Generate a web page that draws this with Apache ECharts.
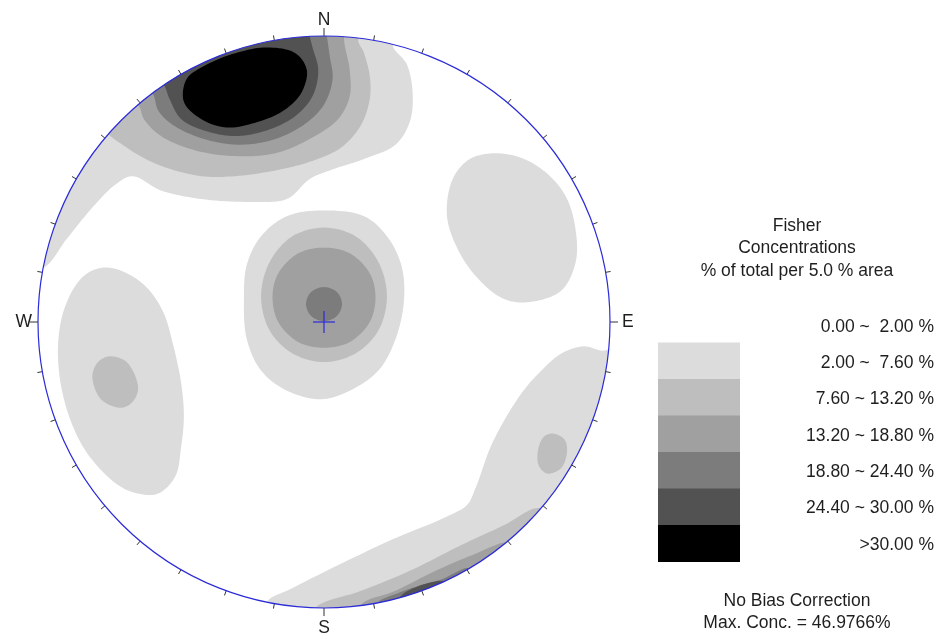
<!DOCTYPE html>
<html><head><meta charset="utf-8">
<script src="https://cdn.jsdelivr.net/npm/echarts@6/dist/echarts.min.js"></script>
<style>html,body{margin:0;padding:0;background:#fff}#c{width:942px;height:639px}</style>
</head><body><div id="c"></div>
<script>
// ---------- text / categories ----------
const compassLabels = {0: 'N', 90: 'E', 180: 'S', 270: 'W'};
const bandLabels = ['0.00 ~  2.00 %', '2.00 ~  7.60 %', '7.60 ~ 13.20 %', '13.20 ~ 18.80 %',
                    '18.80 ~ 24.40 %', '24.40 ~ 30.00 %', '>30.00 %'];
const titleLines = ['Fisher', 'Concentrations', '% of total per 5.0 % area'];
const footLines = ['No Bias Correction', 'Max. Conc. = 46.9766%'];
const poleCentre = [0, 0];

// ---------- contour rings (projection plane, unit net radius), ring k = band k+1 ----------
const northRings = [
  [[-1.05,0.19],[-0.98,0.19],[-0.90,0.29],[-0.81,0.40],[-0.73,0.48],[-0.67,0.51],[-0.57,0.46],[-0.43,0.43],[-0.26,0.42],[-0.13,0.43],[-0.05,0.50],[0.02,0.53],[0.14,0.57],[0.25,0.62],[0.30,0.70],[0.31,0.80],[0.29,0.90],[0.24,0.97],[0.28,1.03],[0,1.07],[-0.28,1.03],[-0.53,0.92],[-0.75,0.75],[-0.92,0.53],[-1.00,0.36]],
  [[-0.77,0.68],[-0.69,0.61],[-0.58,0.55],[-0.43,0.51],[-0.31,0.51],[-0.17,0.53],[-0.05,0.56],[0.06,0.61],[0.13,0.69],[0.16,0.78],[0.16,0.86],[0.14,0.94],[0.12,0.99],[0.19,1.05],[0,1.07],[-0.28,1.03],[-0.53,0.92],[-0.75,0.75]],
  [[-0.65,0.76],[-0.63,0.71],[-0.57,0.65],[-0.45,0.60],[-0.31,0.58],[-0.17,0.59],[-0.05,0.64],[0.05,0.71],[0.09,0.79],[0.09,0.88],[0.07,1.00],[0.09,1.06],[0,1.07],[-0.28,1.03],[-0.53,0.92],[-0.72,0.80]],
  [[-0.60,0.80],[-0.58,0.74],[-0.53,0.69],[-0.42,0.64],[-0.29,0.62],[-0.17,0.64],[-0.07,0.69],[0.00,0.76],[0.03,0.85],[0.02,0.93],[0.01,1.00],[0.0,1.07],[-0.28,1.03],[-0.53,0.92],[-0.66,0.84]],
  [[-0.56,0.83],[-0.54,0.78],[-0.50,0.71],[-0.42,0.67],[-0.31,0.65],[-0.20,0.67],[-0.10,0.72],[-0.04,0.79],[-0.02,0.88],[-0.04,0.96],[-0.05,1.00],[-0.06,1.065],[-0.28,1.03],[-0.53,0.92],[-0.60,0.88]],
  [[-0.49,0.77],[-0.48,0.85],[-0.41,0.90],[-0.31,0.94],[-0.20,0.96],[-0.10,0.94],[-0.06,0.88],[-0.08,0.80],[-0.14,0.74],[-0.23,0.70],[-0.34,0.68],[-0.43,0.71]]
];
const centreRings = [
  [[-0.01,0.39],[0.14,0.37],[0.22,0.30],[0.27,0.20],[0.28,0.08],[0.25,-0.06],[0.19,-0.17],[0.09,-0.24],[-0.01,-0.27],[-0.13,-0.24],[-0.22,-0.17],[-0.27,-0.06],[-0.28,0.08],[-0.27,0.20],[-0.22,0.30],[-0.13,0.37]],
  [[0.22,0.09],[0.19,0.21],[0.11,0.30],[0.00,0.33],[-0.11,0.30],[-0.19,0.21],[-0.22,0.09],[-0.19,-0.03],[-0.11,-0.11],[0.00,-0.14],[0.11,-0.11],[0.19,-0.03]],
  [[0.18,0.086],[0.16,0.17],[0.09,0.24],[0.00,0.26],[-0.09,0.24],[-0.16,0.17],[-0.18,0.09],[-0.16,0.00],[-0.09,-0.07],[0.00,-0.09],[0.09,-0.07],[0.16,0.00]],
  [[0.063,0.063],[0.045,0.105],[0.0,0.122],[-0.045,0.105],[-0.063,0.063],[-0.045,0.021],[0.0,0.003],[0.045,0.021]]
];
const westRings = [
  [[-0.75,0.19],[-0.67,0.16],[-0.61,0.11],[-0.56,0.03],[-0.53,-0.07],[-0.50,-0.21],[-0.49,-0.33],[-0.50,-0.44],[-0.52,-0.54],[-0.58,-0.60],[-0.65,-0.60],[-0.72,-0.57],[-0.82,-0.47],[-0.88,-0.36],[-0.92,-0.22],[-0.93,-0.08],[-0.91,0.04],[-0.86,0.14],[-0.81,0.18]],
  [[-0.75,-0.12],[-0.69,-0.14],[-0.65,-0.23],[-0.67,-0.28],[-0.71,-0.30],[-0.78,-0.27],[-0.81,-0.19],[-0.79,-0.14]]
];
const northEastRings = [
  [[0.60,0.59],[0.70,0.57],[0.79,0.51],[0.85,0.43],[0.88,0.32],[0.88,0.21],[0.83,0.11],[0.72,0.07],[0.63,0.08],[0.54,0.15],[0.47,0.25],[0.43,0.37],[0.45,0.50],[0.51,0.57]]
];
const southEastRings = [
  [[-0.20,-0.98],[-0.11,-0.93],[0.07,-0.84],[0.24,-0.76],[0.43,-0.68],[0.50,-0.64],[0.53,-0.58],[0.59,-0.42],[0.69,-0.25],[0.76,-0.17],[0.83,-0.11],[0.91,-0.085],[0.98,-0.10],[1.06,-0.06],[1.05,-0.19],[1.00,-0.36],[0.92,-0.53],[0.75,-0.75],[0.53,-0.92],[0.28,-1.03],[0,-1.07],[-0.19,-1.05]],
  [[-0.03,-1.00],[0.13,-0.94],[0.30,-0.87],[0.48,-0.78],[0.63,-0.71],[0.75,-0.65],[0.82,-0.69],[0.75,-0.75],[0.53,-0.92],[0.28,-1.03],[0.04,-1.07],[-0.04,-1.07]],
  [[0.13,-0.99],[0.25,-0.94],[0.39,-0.87],[0.53,-0.81],[0.64,-0.77],[0.71,-0.79],[0.53,-0.92],[0.28,-1.03],[0.15,-1.06]],
  [[0.18,-0.99],[0.28,-0.94],[0.41,-0.90],[0.51,-0.86],[0.56,-0.90],[0.36,-1.00],[0.22,-1.04]],
  [[0.26,-0.97],[0.34,-0.92],[0.43,-0.91],[0.45,-0.97],[0.28,-1.03]]
];
const southEastSpotRings = [
  null,
  [[0.80,-0.39],[0.84,-0.41],[0.85,-0.45],[0.83,-0.51],[0.78,-0.53],[0.75,-0.50],[0.75,-0.44],[0.77,-0.40]]
];

// ---------- styles ----------
const bandFill = ['#ffffff', '#dcdcdc', '#bebebe', '#a0a0a0', '#7c7c7c', '#525252', '#000000'];
const FONT = '"Liberation Sans", Arial, Helvetica, sans-serif';
const TXT = '#1e1e1e';
const NET_BLUE = '#2b2bd8';

// build draw list: lower bands first
const contours = [];
[northRings, centreRings, westRings, northEastRings, southEastRings, southEastSpotRings].forEach(rings => {
  rings.forEach((pts, i) => { if (pts) contours.push({ band: i + 1, pts: pts }); });
});
contours.sort((a, b) => a.band - b.band);

// closed centripetal Catmull-Rom curve through the projected ring vertices (drawing only)
function smoothRing(P, steps) {
  const n = P.length, out = [];
  const d = (a, b) => Math.max(Math.pow(Math.hypot(b[0] - a[0], b[1] - a[1]), 0.5), 1e-4);
  for (let i = 0; i < n; i++) {
    const p0 = P[(i - 1 + n) % n], p1 = P[i], p2 = P[(i + 1) % n], p3 = P[(i + 2) % n];
    const t0 = 0, t1 = t0 + d(p0, p1), t2 = t1 + d(p1, p2), t3 = t2 + d(p2, p3);
    for (let s = 0; s < steps; s++) {
      const t = t1 + (t2 - t1) * s / steps;
      const lerp = (a, b, ta, tb) => [
        ((tb - t) * a[0] + (t - ta) * b[0]) / (tb - ta),
        ((tb - t) * a[1] + (t - ta) * b[1]) / (tb - ta)];
      const A1 = lerp(p0, p1, t0, t1), A2 = lerp(p1, p2, t1, t2), A3 = lerp(p2, p3, t2, t3);
      const B1 = lerp(A1, A2, t0, t2), B2 = lerp(A2, A3, t1, t3);
      out.push(lerp(B1, B2, t1, t2));
    }
  }
  return out;
}

// ---------- legend graphics ----------
const graphics = [];
const legX = 658, legW = 82, legTop = 306, legStep = 36.5;
bandLabels.forEach((lab, i) => {
  if (i > 0) {
    graphics.push({ type: 'rect', z: 100, shape: { x: legX, y: legTop + i * legStep, width: legW, height: legStep + 0.6 },
      style: { fill: bandFill[i] } });
  }
  graphics.push({ type: 'text', z: 100, x: 934, y: 327 + i * 36.3,
    style: { text: lab, font: '17.5px ' + FONT, fill: TXT, textAlign: 'right', textVerticalAlign: 'middle' } });
});
titleLines.forEach((t, i) => {
  graphics.push({ type: 'text', z: 100, x: 797, y: 226 + i * 22.5,
    style: { text: t, font: '17.5px ' + FONT, fill: TXT, textAlign: 'center', textVerticalAlign: 'middle' } });
});
footLines.forEach((t, i) => {
  graphics.push({ type: 'text', z: 100, x: 797, y: 601 + i * 22,
    style: { text: t, font: '17.5px ' + FONT, fill: TXT, textAlign: 'center', textVerticalAlign: 'middle' } });
});

const lab = { fontSize: 17.5, fontFamily: FONT, color: TXT };
const chart = echarts.init(document.getElementById('c'), null, { renderer: 'canvas' });
chart.setOption({
  animation: false,
  backgroundColor: '#ffffff',
  grid: { left: 38, top: 36, width: 572, height: 572 },
  xAxis: { type: 'value', min: -1, max: 1, show: false },
  yAxis: { type: 'value', min: -1, max: 1, show: false },
  polar: { center: [324, 322], radius: 286 },
  radiusAxis: { type: 'value', min: 0, max: 1, show: false },
  angleAxis: {
    type: 'value', min: 0, max: 360, interval: 90, startAngle: 90, clockwise: true, z: 10,
    axisLine: { show: true, lineStyle: { color: NET_BLUE, width: 1.2 } },
    axisTick: { show: true, length: 8, lineStyle: { color: '#333', width: 1 } },
    minorTick: { show: true, splitNumber: 9, length: 5, lineStyle: { color: '#333', width: 1 } },
    splitLine: { show: false },
    axisLabel: { show: true, margin: 6, fontSize: 17.5, fontFamily: FONT, color: TXT,
      formatter: v => (v < 360 && compassLabels[v]) ? '{c' + v + '|' + compassLabels[v] + '}' : '',
      rich: {
        c0: Object.assign({ padding: [0, 0, 1, 0] }, lab),
        c90: Object.assign({ padding: [0, 0, 0, 6] }, lab),
        c180: Object.assign({ padding: [5, 0, 0, 0] }, lab),
        c270: Object.assign({}, lab)
      } }
  },
  graphic: graphics,
  series: [
    {
      type: 'custom', coordinateSystem: 'cartesian2d', z: 2, silent: true,
      data: contours.map(c => [c.pts[0][0], c.pts[0][1], c.band]),
      renderItem: (params, api) => {
        const c = contours[params.dataIndex];
        return { type: 'polygon',
          shape: { points: smoothRing(c.pts.map(p => api.coord(p)), 10) },
          style: { fill: bandFill[c.band], stroke: null } };
      }
    },
    {
      // mask outside the net circle
      type: 'custom', coordinateSystem: 'cartesian2d', z: 3, silent: true,
      data: [poleCentre],
      renderItem: (params, api) => {
        const c = api.coord(poleCentre);
        const r = api.coord([1, 0])[0] - c[0];
        return { type: 'circle', shape: { cx: c[0], cy: c[1], r: r + 32 },
          style: { fill: 'none', stroke: '#ffffff', lineWidth: 64 } };
      }
    },
    {
      // centre cross
      type: 'custom', coordinateSystem: 'cartesian2d', z: 5, silent: true,
      data: [poleCentre],
      renderItem: (params, api) => {
        const c = api.coord([api.value(0), api.value(1)]);
        return { type: 'group', children: [
          { type: 'line', shape: { x1: c[0] - 11, y1: c[1], x2: c[0] + 11, y2: c[1] }, style: { stroke: NET_BLUE, lineWidth: 1.2 } },
          { type: 'line', shape: { x1: c[0], y1: c[1] - 11, x2: c[0], y2: c[1] + 11 }, style: { stroke: NET_BLUE, lineWidth: 1.2 } }
        ] };
      }
    }
  ]
});
</script></body></html>
